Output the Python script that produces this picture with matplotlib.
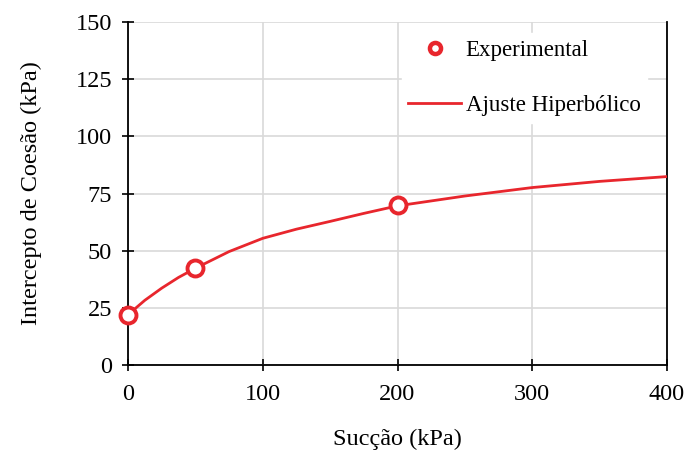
import matplotlib
matplotlib.use("Agg")
import matplotlib.pyplot as plt

plt.rcParams['font.family'] = ['Liberation Serif', 'DejaVu Serif']

# experimental points
succao_exp = [0, 50, 200]
coesao_exp = [21.8, 42.6, 70.0]

# hyperbolic fit
succao_fit = [0, 12.5, 25, 37.5, 50, 75, 100, 125, 150, 175, 200, 250, 300, 350, 400]
coesao_fit = [22.0, 28.3, 33.6, 38.3, 42.3, 49.6, 55.4, 59.4, 62.8, 66.3, 69.6, 73.9, 77.6, 80.3, 82.4]

xticks = [0, 100, 200, 300, 400]
yticks = [0, 25, 50, 75, 100, 125, 150]

red = '#e8262d'

fig = plt.figure(figsize=(6.89, 4.53), dpi=100)
ax = fig.add_axes([128/689, 1 - 365/453, 539/689, 343/453])

ax.plot(succao_fit, coesao_fit, color=red, lw=2.0, label='Ajuste Hiperbólico', zorder=3)
ax.plot(succao_exp, coesao_exp, ls='none', marker='o', ms=11.5, mew=2.8,
        mec=red, mfc='white', label='Experimental', zorder=4, clip_on=False)

ax.set_xlim(0, 400)
ax.set_ylim(0, 150)
ax.set_xticks(xticks)
ax.set_yticks(yticks)
ax.grid(True, color='#d9d9d9', lw=1.2)
ax.set_axisbelow(True)

ax.spines['top'].set_visible(False)
for s in ['left', 'bottom', 'right']:
    ax.spines[s].set_linewidth(1.3)
    ax.spines[s].set_color('black')

ax.tick_params(direction='inout', length=9, width=1.2, labelsize=17.5, pad=7, colors='black')
ax.tick_params(axis='x', pad=9)

ax.set_xlabel('Sucção (kPa)', fontsize=17.5, labelpad=17)
ax.set_ylabel('Intercepto de Coesão (kPa)', fontsize=17.5, labelpad=24)

h, l = ax.get_legend_handles_labels()
leg = ax.legend(h[::-1], l[::-1], loc='upper right', bbox_to_anchor=(0.985, 1.0),
                fontsize=16.5, frameon=True, edgecolor='white', framealpha=1,
                fancybox=False, handlelength=2.3, labelspacing=1.45,
                borderpad=0.3, handletextpad=0.2)
leg.legend_handles[0].set_markersize(8)
leg.legend_handles[0].set_markeredgewidth(3.2)

fig.savefig('out.png', dpi=100)
